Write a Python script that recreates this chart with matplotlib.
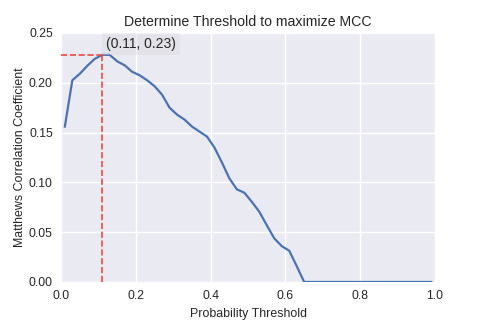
import numpy as np
import matplotlib
matplotlib.use("Agg")
import matplotlib.pyplot as plt

# thresholds 0.01 .. 0.99 step 0.02, MCC
thresholds = np.arange(0.01, 1.0, 0.02)
mcc_head = [0.156, 0.2025, 0.209, 0.217, 0.224, 0.228, 0.228, 0.2215, 0.2175,
            0.211, 0.2075, 0.2025, 0.1965, 0.188, 0.175, 0.168, 0.163, 0.156,
            0.151, 0.146, 0.135, 0.120, 0.104, 0.093, 0.0896, 0.0805, 0.0705,
            0.057, 0.0438, 0.036, 0.0314, 0.016, 0.0]
mcc = mcc_head + [0.0] * (len(thresholds) - len(mcc_head))

best_t = 0.11
best_mcc = 0.2275
label = "(0.11, 0.23)"

plt.rcParams['font.family'] = ['Liberation Sans', 'DejaVu Sans']
fig, ax = plt.subplots(figsize=(4.85, 3.23), dpi=100)
fig.subplots_adjust(left=0.126, right=0.897, top=0.898, bottom=0.127)

ax.set_facecolor('#EAEAF2')
for s in ax.spines.values():
    s.set_visible(False)
ax.grid(True, color='white', linewidth=1.0)
ax.set_axisbelow(True)
ax.tick_params(length=0, labelsize=8.8, colors='#262626', pad=6)

ax.plot(thresholds, mcc, color='#4C72B0', linewidth=1.6)
ax.plot([0, best_t], [best_mcc, best_mcc], '--', color='#F04848', linewidth=1.2)
ax.plot([best_t, best_t], [0, best_mcc], '--', color='#F04848', linewidth=1.2)
ax.annotate(label, xy=(best_t, best_mcc), xytext=(0.12, 0.239),
            fontsize=10, color='#262626', va='center',
            bbox=dict(boxstyle='square,pad=0.3', fc='#dcd8dc', ec='none', alpha=0.4))

ax.set_xlim(0, 1.0)
ax.set_ylim(0, 0.25)
ax.set_xticks([0.0, 0.2, 0.4, 0.6, 0.8, 1.0])
ax.set_yticks([0.0, 0.05, 0.10, 0.15, 0.20, 0.25])
ax.set_yticklabels(['0.00', '0.05', '0.10', '0.15', '0.20', '0.25'])
ax.set_xlabel('Probability Threshold', fontsize=8.9, color='#262626', labelpad=4)
ax.set_ylabel('Matthews Correlation Coefficient', fontsize=8.9, color='#262626', labelpad=2)
ax.set_title('Determine Threshold to maximize MCC', fontsize=10.2, color='#262626', pad=5)

fig.savefig('out.png', dpi=100)
